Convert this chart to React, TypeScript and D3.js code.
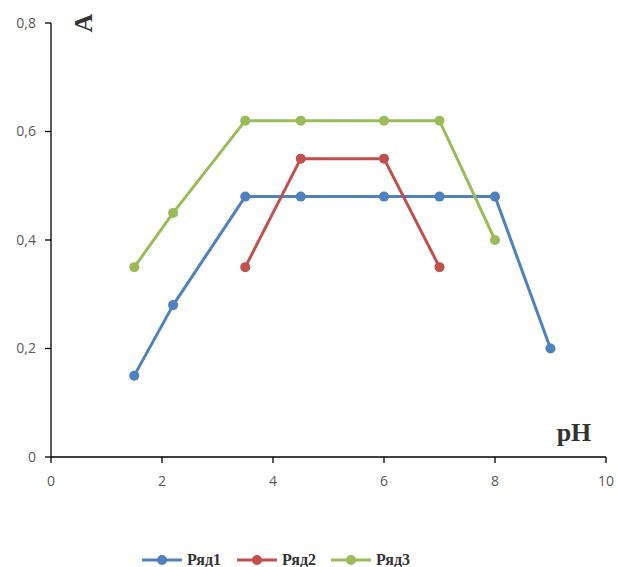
import React from "react";
import * as d3 from "d3";

const xValues1 = [1.5, 2.2, 3.5, 4.5, 6, 7, 8, 9];
const yValues1 = [0.15, 0.28, 0.48, 0.48, 0.48, 0.48, 0.48, 0.2];
const xValues2 = [3.5, 4.5, 6, 7];
const yValues2 = [0.35, 0.55, 0.55, 0.35];
const xValues3 = [1.5, 2.2, 3.5, 4.5, 6, 7, 8];
const yValues3 = [0.35, 0.45, 0.62, 0.62, 0.62, 0.62, 0.4];
const seriesNames = ["Ряд1", "Ряд2", "Ряд3"];
const seriesColors = ["#4F81BD", "#C0504D", "#9BBB59"];
const xTicks = [0, 2, 4, 6, 8, 10];
const yTicks = [0, 0.2, 0.4, 0.6, 0.8];

export default function App() {
  const W = 617, H = 567;
  const x = d3.scaleLinear().domain([0, 10]).range([51, 606]);
  const y = d3.scaleLinear().domain([0, 0.8]).range([457, 23]);
  const series = [
    xValues1.map((v, i) => [v, yValues1[i]] as [number, number]),
    xValues2.map((v, i) => [v, yValues2[i]] as [number, number]),
    xValues3.map((v, i) => [v, yValues3[i]] as [number, number]),
  ];
  const line = d3.line<[number, number]>().x(d => x(d[0])).y(d => y(d[1]));
  const fmt = (v: number) => String(v).replace(".", ",");
  const legendX = [142, 237, 331];
  const legendY = 560;
  return (
    <svg width={W} height={H} style={{ position: "absolute", left: 0, top: 0 }}>
      <rect width={W} height={H} fill="#fff" />
      <line x1={x(0)} x2={x(0)} y1={y(0.8)} y2={y(0)} stroke="#000" strokeWidth={1.3} />
      <line x1={x(0)} x2={x(10)} y1={y(0)} y2={y(0)} stroke="#000" strokeWidth={1.3} />
      {yTicks.map(t => (
        <g key={"y" + t}>
          <line x1={x(0) - 6} x2={x(0)} y1={y(t)} y2={y(t)} stroke="#000" strokeWidth={1.3} />
          <text x={36} y={y(t)} dy="0.35em" textAnchor="end" fill="#595959"
            fontFamily="Open Sans, Liberation Sans, sans-serif" fontSize={14}>{fmt(t)}</text>
        </g>
      ))}
      {xTicks.map(t => (
        <g key={"x" + t}>
          <line x1={x(t)} x2={x(t)} y1={y(0)} y2={y(0) + 6} stroke="#000" strokeWidth={1.3} />
          <text x={x(t)} y={486} textAnchor="middle" fill="#595959"
            fontFamily="Open Sans, Liberation Sans, sans-serif" fontSize={14}>{t}</text>
        </g>
      ))}
      {series.map((s, i) => (
        <g key={"s" + i}>
          <path d={line(s) || ""} fill="none" stroke={seriesColors[i]} strokeWidth={3} strokeLinejoin="round" />
          {s.map((d, j) => (
            <circle key={j} cx={x(d[0])} cy={y(d[1])} r={5} fill={seriesColors[i]} />
          ))}
        </g>
      ))}
      <text transform="translate(92,23) rotate(-90)" textAnchor="middle" fontFamily="Liberation Serif, serif"
        fontWeight="bold" fontSize={26} fill="#333">A</text>
      <text x={574} y={441} textAnchor="middle" fontFamily="Liberation Serif, serif"
        fontWeight="bold" fontSize={26} fill="#333">pH</text>
      {seriesNames.map((n, i) => (
        <g key={"l" + i}>
          <line x1={legendX[i]} x2={legendX[i] + 40} y1={legendY} y2={legendY} stroke={seriesColors[i]} strokeWidth={3} />
          <circle cx={legendX[i] + 20} cy={legendY} r={5} fill={seriesColors[i]} />
          <text x={legendX[i] + 45} y={legendY + 5} fontFamily="Liberation Serif, serif" fontWeight="bold"
            fontSize={16} fill="#333">{n}</text>
        </g>
      ))}
    </svg>
  );
}
